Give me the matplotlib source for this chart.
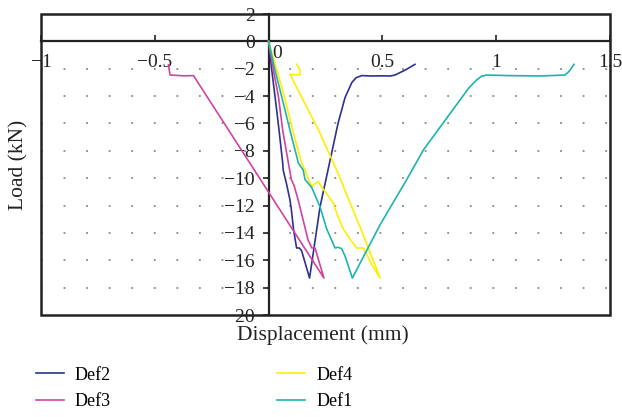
import matplotlib
matplotlib.use("Agg")
import matplotlib.pyplot as plt
from matplotlib.patches import Rectangle

plt.rcParams['font.family'] = ['Liberation Serif', 'DejaVu Serif']

# ---- data (displacement in mm, load in kN) ----
def2_x = [0, 0.014, 0.028, 0.046, 0.062, 0.064, 0.08, 0.094, 0.10, 0.11, 0.123, 0.135, 0.145,
          0.18, 0.226, 0.261, 0.305, 0.336, 0.366, 0.385, 0.41, 0.45, 0.50, 0.535, 0.555, 0.60, 0.643]
def2_y = [0, -2.1, -4.0, -6.5, -8.9, -9.4, -10.5, -11.6, -12.3, -13.8, -15.1, -15.1, -15.3,
          -17.3, -12.1, -9.4, -6.0, -4.1, -3.0, -2.65, -2.5, -2.53, -2.52, -2.53, -2.46, -2.1, -1.68]

def3_x = [0, 0.021, 0.043, 0.062, 0.087, 0.10, 0.108, 0.113, 0.13, 0.151, 0.173, 0.19, 0.204,
          0.243, -0.33, -0.37, -0.433, -0.44]
def3_y = [0, -2.1, -4.0, -6.5, -8.9, -10.1, -10.4, -10.6, -11.6, -13.0, -14.5, -15.1, -15.1,
          -17.3, -2.5, -2.52, -2.46, -1.72]

def4_x = [0, 0.036, 0.069, 0.106, 0.145, 0.16, 0.175, 0.19, 0.205, 0.218, 0.24, 0.284, 0.30,
          0.328, 0.36, 0.387, 0.416, 0.453, 0.49, 0.416, 0.299, 0.22, 0.094, 0.138, 0.138, 0.123]
def4_y = [0, -2.1, -4.0, -6.5, -8.9, -9.4, -10.1, -10.6, -10.4, -10.25, -10.8, -11.8, -12.6,
          -13.7, -14.5, -15.1, -15.1, -16.3, -17.3, -14.15, -9.4, -6.5, -2.41, -2.46, -2.1, -1.67]

def1_x = [0, 0.028, 0.057, 0.094, 0.131, 0.152, 0.16, 0.174, 0.19, 0.226, 0.255, 0.292, 0.305,
          0.321, 0.336, 0.368, 0.49, 0.607, 0.68, 0.782, 0.88, 0.914, 0.935, 0.958, 1.05, 1.192,
          1.302, 1.32, 1.342]
def1_y = [0, -2.1, -4.0, -6.5, -8.9, -9.4, -10.1, -10.37, -10.7, -12.1, -13.7, -15.1, -15.05,
          -15.15, -15.7, -17.3, -13.4, -10.1, -7.94, -5.62, -3.4, -2.82, -2.55, -2.46, -2.5, -2.53,
          -2.46, -2.2, -1.68]

x_ticks = [-1, -0.5, 0, 0.5, 1, 1.5]
x_tick_labels = ['\u22121', '\u22120.5', '', '0.5', '1', '1.5']
y_ticks = [2, 0, -2, -4, -6, -8, -10, -12, -14, -16, -18, -20]
grid_levels = [-2, -4, -6, -8, -10, -12, -14, -16, -18]

fig = plt.figure(figsize=(6.22, 4.17), dpi=100)
ax = fig.add_axes([0.0659, 0.2446, 0.9148, 0.7218])

ax.set_xlim(-1, 1.5)
ax.set_ylim(-20, 2)

for lvl in grid_levels:
    ax.axhline(lvl, color='#888888', lw=1.3, linestyle=(0, (1, 11.5)), zorder=1)

lw = 1.2
ax.plot(def2_x, def2_y, color='#2E3192', lw=lw, label='Def2', zorder=3)
ax.plot(def3_x, def3_y, color='#D2449C', lw=lw, label='Def3', zorder=3)
ax.plot(def4_x, def4_y, color='#FFEE00', lw=lw, label='Def4', zorder=3)
ax.plot(def1_x, def1_y, color='#1CB5AC', lw=lw, label='Def1', zorder=3)

# axis lines through origin
ax.spines['left'].set_position(('data', 0))
ax.spines['bottom'].set_position(('data', 0))
for s in ['left', 'bottom']:
    ax.spines[s].set_linewidth(1.6)
    ax.spines[s].set_color('#222222')
ax.spines['top'].set_visible(False)
ax.spines['right'].set_visible(False)
ax.add_patch(Rectangle((0, 0), 1, 1, transform=ax.transAxes, fill=False,
                       lw=1.8, edgecolor='#222222', clip_on=False, zorder=2))

ax.set_xticks(x_ticks)
ax.set_xticklabels(x_tick_labels)
ax.set_yticks(y_ticks)
ax.set_yticklabels([('\u2212' + str(-v)) if v < 0 else str(v) for v in y_ticks])
ax.tick_params(axis='x', direction='in', length=4, width=1.2, labelsize=14, pad=9, colors='#222222')
ax.tick_params(axis='y', direction='out', length=4, width=1.2, labelsize=14, pad=6, colors='#222222')
# origin label for the x axis, sits just right of the vertical axis
ax.annotate('0', xy=(0, 0), xytext=(2.5, -2.5), textcoords='offset points',
            ha='left', va='top', fontsize=14, color='#222222')

ax.set_xlabel('Displacement (mm)', fontsize=15.5, color='#222222')
ax.xaxis.set_label_coords(0.495, -0.035)
ax.set_ylabel('Load (kN)', fontsize=15.5, color='#222222')
ax.yaxis.set_label_coords(-0.022, 0.5)

fig.legend(loc='upper left', bbox_to_anchor=(0.032, 0.16), ncol=2, frameon=False,
           fontsize=13, handlelength=1.55, columnspacing=9.2, labelspacing=0.55,
           handletextpad=0.6)

fig.savefig('out.png', dpi=100)
